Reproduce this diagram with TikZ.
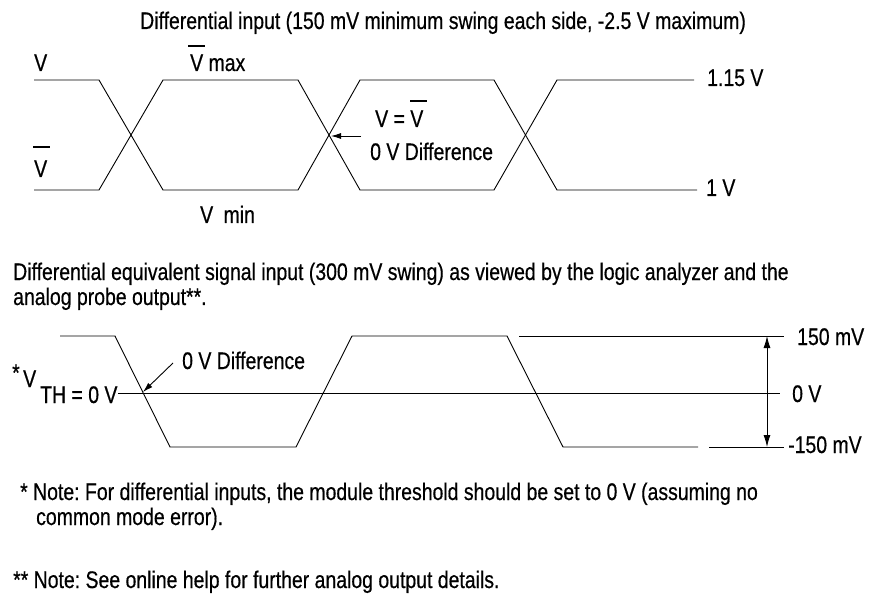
\documentclass[tikz,border=0pt]{standalone}
\usepackage{fontspec}
\setmainfont{Liberation Sans}[FakeStretch=0.81,FakeBold=0.5]
\usetikzlibrary{arrows.meta}
\newcommand\barV[2][0pt]{\leavevmode\rlap{\kern#1\rule[#2]{17pt}{1.6pt}}V}
\frenchspacing
\begin{document}
\begin{tikzpicture}[x=1pt,y=-1pt,
  lbl/.style={anchor=base west,inner sep=0pt,font=\fontsize{24}{27}\selectfont},
  wave/.style={line width=0.9pt,line join=miter},
  refl/.style={line width=0.9pt},
  arr/.style={line width=0.9pt,-{Latex[length=10pt,width=6pt]}},
  darr/.style={line width=0.9pt,{Latex[length=12pt,width=7pt]}-{Latex[length=12pt,width=7pt]}}]
\useasboundingbox (0,0) rectangle (873,596);

% ---------- top diagram ----------
\node[lbl] (title) at (140,29) {Differential input (150 mV minimum swing each side, -2.5 V maximum)};
\node[lbl] (lv) at (34,71) {V};
\node[lbl] (lvbar) at (34,177) {\barV[-1pt]{29pt}};
\node[lbl] (lvmax) at (190,71) {\barV[-2pt]{24pt} max};
\node[lbl] (lvmin) at (200,223) {V\hspace{5pt} min};
\node[lbl] (lveq) at (375,127) {V = \barV[0pt]{25pt}};
\node[lbl] (ldiff) at (370,160) {0 V Difference};
\node[lbl] (l115) at (707,86) {1.15 V};
\node[lbl] (l1v) at (706,196) {1 V};

\draw[wave] (34,80) -- (99,80) -- (163,190) -- (298,190) -- (360,80) -- (494,80) -- (557,190) -- (697,190);
\draw[wave] (34,190) -- (99,190) -- (163,80) -- (298,80) -- (360,190) -- (494,190) -- (557,80) -- (694,80);

\coordinate (x2) at (331,136);
\coordinate (a2) at (361,136);
\draw[arr] (a2) -- (x2);

% ---------- middle text ----------
\node[lbl] (t2a) at (13,280) {Differential equivalent signal input (300 mV swing) as viewed by the logic analyzer and the};
\node[lbl] (t2b) at (13,305) {analog probe output**.};

% ---------- bottom diagram ----------
\node[lbl] (star) at (12,381) {*};
\node[lbl] (vth) at (23,387) {V};
\node[lbl] (th) at (40,403) {TH = 0 V};
\node[lbl] (bdiff) at (182,369) {0 V Difference};
\node[lbl] (l150) at (797,345) {150 mV};
\node[lbl] (l0) at (792,402) {0 V};
\node[lbl] (lm150) at (788,453) {-150 mV};

\coordinate (z0) at (118,393);
\coordinate (z1) at (780,393);
\draw[refl] (z0) -- (z1);
\draw[refl] (519,336) -- (784,336);
\draw[refl] (709,447) -- (784,447);
\draw[wave] (60,336) -- (115,336) -- (170,447) -- (296,447) -- (352,336) -- (507,336) -- (563,447) -- (698,447);

\coordinate (bx) at (143,392);
\coordinate (ba) at (173,363);
\draw[arr] (ba) -- (bx);

\coordinate (dt) at (767,336);
\coordinate (db) at (767,447);
\draw[darr] (dt) -- (db);

% ---------- notes ----------
\node[lbl] (n1) at (20,500) {* Note: For differential inputs, the module threshold should be set to 0 V (assuming no};
\node[lbl] (n2) at (36,525) {common mode error).};
\node[lbl] (n3) at (13,588) {** Note: See online help for further analog output details.};
\end{tikzpicture}
\end{document}
